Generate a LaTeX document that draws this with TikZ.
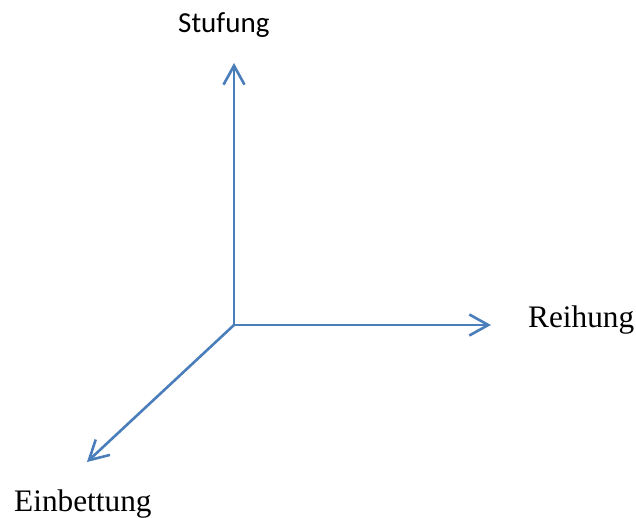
\documentclass[tikz,border=0pt]{standalone}
\usepackage{fontspec}
\newfontfamily\calibri{Carlito}
\newfontfamily\serifcam{Liberation Serif}
\usetikzlibrary{arrows.meta}
\definecolor{axisblue}{RGB}{74,126,187}
\tikzset{
  axis/.style={draw=axisblue, line width=2.6pt, -{Straight Barb[length=19pt,width=21pt,line width=2.6pt]}},
  lbl/.style={anchor=base west, inner sep=0pt, font=\serifcam\fontsize{31.3}{34}\selectfont},
  lblsans/.style={anchor=base west, inner sep=0pt, font=\calibri\fontsize{29}{32}\selectfont}
}
\begin{document}
\begin{tikzpicture}[x=1pt,y=1pt]
\useasboundingbox (0,0) rectangle (636,517);
\coordinate (O) at (234,192);
\coordinate (U) at (234,454);
\coordinate (R) at (491,192);
\coordinate (D) at (87,55);
\draw[axis] (O) -- (U);
\draw[axis] (O) -- (R);
\draw[axis] (O) -- (D);
\node[lblsans] (stufung) at (178,484) {Stufung};
\node[lbl] (reihung) at (528,190) {Reihung};
\node[lbl] (einbettung) at (14,6) {Einbettung};
\end{tikzpicture}
\end{document}
